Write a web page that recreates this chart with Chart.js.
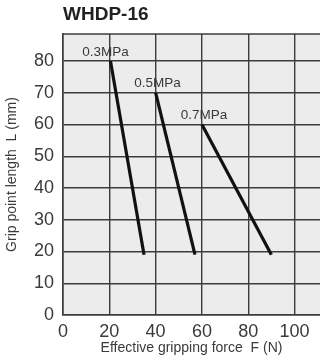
<!DOCTYPE html>
<html>
<head>
<meta charset="utf-8">
<script src="https://cdn.jsdelivr.net/npm/chart.js@4"></script>
<style>
    html, body { margin: 0; padding: 0; background: #ffffff; }
    #wrap { width: 320px; height: 360px; }
</style>
</head>
<body>
<div id="wrap"><canvas id="grip-chart" width="320" height="360"></canvas></div>
<script>
// Data
var pressures = ['0.3MPa', '0.5MPa', '0.7MPa'];
var forceStart = [20.5, 40, 60];
var lengthStart = [80, 70, 60];
var forceEnd = [35, 57, 90];
var lengthEnd = [19, 19, 19];
var xTicks = [0, 20, 40, 60, 80, 100];
var yTicks = [0, 10, 20, 30, 40, 50, 60, 70, 80];

var chartTitle = 'WHDP-16';
var xTitle = 'Effective gripping force  F (N)';
var yTitle = 'Grip point length  L (mm)';

var gridColor = '#3c3c3c';
var textColor = '#3a3a3a';
var fontFamily = '"Liberation Sans", Arial, sans-serif';

var datasets = [];
for (let i = 0; i < pressures.length; i++) {
    datasets.push({
        label: pressures[i],
        data: [
            { x: forceStart[i], y: lengthStart[i] },
            { x: forceEnd[i], y: lengthEnd[i] }
        ],
        showLine: true,
        borderColor: '#111111',
        borderWidth: 3.2,
        pointRadius: 0,
        borderCapStyle: 'butt'
    });
}

// plot background, top border, chart title and line labels
var decorPlugin = {
    id: 'decor',
    beforeDraw: function (chart) {
        let ctx = chart.ctx;
        let a = chart.chartArea;
        ctx.save();
        ctx.fillStyle = '#ececec';
        ctx.fillRect(a.left, a.top, a.right - a.left, a.bottom - a.top);
        ctx.restore();
    },
    afterDraw: function (chart) {
        let ctx = chart.ctx;
        let a = chart.chartArea;
        let xs = chart.scales.x;
        let ys = chart.scales.y;
        ctx.save();
        ctx.strokeStyle = gridColor;
        ctx.lineWidth = 1.4;
        ctx.beginPath();
        ctx.moveTo(a.left, a.top);
        ctx.lineTo(a.right, a.top);
        ctx.stroke();

        ctx.fillStyle = '#222222';
        ctx.font = 'bold 19px ' + fontFamily;
        ctx.textAlign = 'left';
        ctx.textBaseline = 'middle';
        ctx.fillText(chartTitle, a.left, 15);

        ctx.fillStyle = textColor;
        ctx.font = '13.5px ' + fontFamily;
        ctx.textAlign = 'center';
        ctx.textBaseline = 'middle';
        for (let i = 0; i < pressures.length; i++) {
            let dx = i == 0 ? -5 : 2;
            ctx.fillText(pressures[i], xs.getPixelForValue(forceStart[i]) + dx, ys.getPixelForValue(lengthStart[i]) - 9);
        }
        ctx.restore();
    }
};

var chart = new Chart(
    document.getElementById('grip-chart'),
    {
        type: 'scatter',
        data: { datasets: datasets },
        options: {
            responsive: false,
            animation: false,
            layout: { padding: { top: 34, right: 0, left: 0, bottom: 0 } },
            plugins: {
                legend: { display: false },
                tooltip: { enabled: false }
            },
            scales: {
                x: {
                    type: 'linear',
                    min: 0,
                    max: 111,
                    afterBuildTicks: function (scale) {
                        scale.ticks = xTicks.map(v => ({ value: v }));
                    },
                    afterFit: function (scale) { scale.height = 45; },
                    grid: { color: gridColor, lineWidth: 1.4, drawTicks: false },
                    border: { color: gridColor, width: 1.6 },
                    ticks: {
                        color: textColor,
                        padding: 6,
                        font: { size: 18, family: fontFamily },
                        maxRotation: 0
                    },
                    title: {
                        display: true,
                        text: xTitle,
                        color: textColor,
                        padding: { top: 0, bottom: 3 },
                        font: { size: 14, family: fontFamily }
                    }
                },
                y: {
                    type: 'linear',
                    min: 0,
                    max: 88.5,
                    afterBuildTicks: function (scale) {
                        scale.ticks = yTicks.map(v => ({ value: v }));
                    },
                    afterFit: function (scale) { scale.width = 63; },
                    grid: { color: gridColor, lineWidth: 1.4, drawTicks: false },
                    border: { color: gridColor, width: 1.6 },
                    ticks: {
                        color: textColor,
                        padding: 9,
                        font: { size: 18, family: fontFamily }
                    },
                    title: {
                        display: true,
                        text: yTitle,
                        color: textColor,
                        padding: { top: 4, bottom: 0 },
                        font: { size: 14, family: fontFamily }
                    }
                }
            }
        },
        plugins: [decorPlugin]
    }
);
</script>
</body>
</html>
